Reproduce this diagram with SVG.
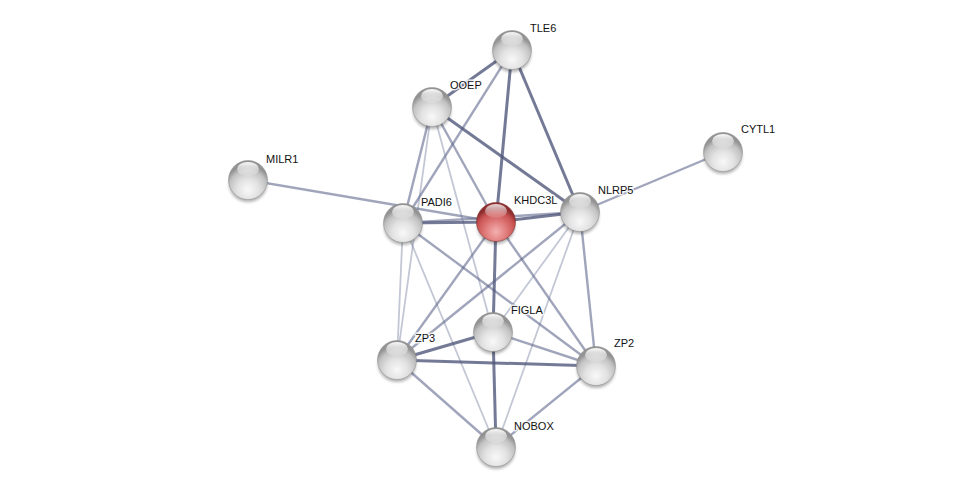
<svg xmlns="http://www.w3.org/2000/svg" width="975" height="493" viewBox="0 0 975 493">
<style>
.e1{stroke:#4d5578;stroke-opacity:0.78;stroke-width:3;fill:none}
.e2{stroke:#5c6489;stroke-opacity:0.58;stroke-width:2.4;fill:none}
.e3{stroke:#6a7296;stroke-opacity:0.4;stroke-width:1.8;fill:none}
.lbl{font-family:"Liberation Sans",Arial,sans-serif;font-size:11px;fill:#111;stroke:#fff;stroke-width:3;stroke-opacity:0.8;paint-order:stroke;stroke-linejoin:round}
</style>
<defs>
<radialGradient id="gGray" cx="50%" cy="75%" r="62%">
<stop offset="0" stop-color="#f8f8f8"/>
<stop offset="0.45" stop-color="#e2e2e2"/>
<stop offset="0.8" stop-color="#c2c2c2"/>
<stop offset="1" stop-color="#939393"/>
</radialGradient>
<radialGradient id="gRed" cx="50%" cy="75%" r="62%">
<stop offset="0" stop-color="#f3b0b0"/>
<stop offset="0.45" stop-color="#e07a7a"/>
<stop offset="0.8" stop-color="#c85252"/>
<stop offset="1" stop-color="#8e2e2e"/>
</radialGradient>
<linearGradient id="gHi" x1="0" y1="0" x2="0" y2="1">
<stop offset="0" stop-color="#ffffff" stop-opacity="0.95"/>
<stop offset="1" stop-color="#ffffff" stop-opacity="0.1"/>
</linearGradient>
<filter id="blur" x="-50%" y="-50%" width="200%" height="200%">
<feGaussianBlur stdDeviation="1.8"/>
</filter>
<g id="sphere">
<ellipse cx="0" cy="4" rx="19" ry="18" fill="#000" opacity="0.3" filter="url(#blur)"/>
<circle r="19.5" fill="url(#gGray)" stroke="#8a8a8a" stroke-width="0.5"/>
<ellipse cx="0" cy="-11" rx="11" ry="7" fill="url(#gHi)"/>
</g>
<g id="sphereRed">
<ellipse cx="0" cy="4" rx="19" ry="18" fill="#000" opacity="0.3" filter="url(#blur)"/>
<circle r="19.5" fill="url(#gRed)" stroke="#7a2a2a" stroke-width="0.5"/>
<ellipse cx="0" cy="-11" rx="11" ry="7" fill="url(#gHi)" opacity="0.85"/>
</g>
</defs>
<rect width="975" height="493" fill="#fff"/>
<g id="connectors">
<line class="e1" x1="512" y1="50" x2="432" y2="107"/>
<line class="e2" x1="512" y1="50" x2="403" y2="223"/>
<line class="e1" x1="512" y1="50" x2="496" y2="222"/>
<line class="e1" x1="512" y1="50" x2="580" y2="212"/>
<line class="e2" x1="432" y1="107" x2="403" y2="223"/>
<line class="e3" x1="432" y1="107" x2="397" y2="360"/>
<line class="e3" x1="432" y1="107" x2="493" y2="332"/>
<line class="e2" x1="432" y1="107" x2="496" y2="222"/>
<line class="e1" x1="432" y1="107" x2="580" y2="212"/>
<line class="e2" x1="248" y1="180" x2="496" y2="222"/>
<line class="e2" x1="723" y1="152" x2="580" y2="212"/>
<line class="e1" x1="403" y1="223" x2="496" y2="222"/>
<line class="e2" x1="403" y1="223" x2="580" y2="212"/>
<line class="e1" x1="496" y1="222" x2="580" y2="212"/>
<line class="e3" x1="403" y1="223" x2="397" y2="360"/>
<line class="e3" x1="403" y1="223" x2="496" y2="447"/>
<line class="e2" x1="403" y1="223" x2="596" y2="366"/>
<line class="e2" x1="496" y1="222" x2="397" y2="360"/>
<line class="e1" x1="496" y1="222" x2="493" y2="332"/>
<line class="e1" x1="493" y1="332" x2="496" y2="447"/>
<line class="e2" x1="496" y1="222" x2="596" y2="366"/>
<line class="e2" x1="580" y1="212" x2="397" y2="360"/>
<line class="e3" x1="580" y1="212" x2="493" y2="332"/>
<line class="e3" x1="580" y1="212" x2="496" y2="447"/>
<line class="e2" x1="580" y1="212" x2="596" y2="366"/>
<line class="e1" x1="493" y1="332" x2="397" y2="360"/>
<line class="e2" x1="493" y1="332" x2="596" y2="366"/>
<line class="e1" x1="397" y1="360" x2="596" y2="366"/>
<line class="e2" x1="397" y1="360" x2="496" y2="447"/>
<line class="e2" x1="596" y1="366" x2="496" y2="447"/>
</g>
<g id="TLE6"><use href="#sphere" x="512" y="50"/><text class="lbl" x="530" y="32">TLE6</text></g>
<g id="OOEP"><use href="#sphere" x="432" y="107"/><text class="lbl" x="450" y="89">OOEP</text></g>
<g id="CYTL1"><use href="#sphere" x="723" y="152"/><text class="lbl" x="741" y="133">CYTL1</text></g>
<g id="MILR1"><use href="#sphere" x="248" y="180"/><text class="lbl" x="266" y="163">MILR1</text></g>
<g id="PADI6"><use href="#sphere" x="403" y="223"/><text class="lbl" x="421" y="206">PADI6</text></g>
<g id="NLRP5"><use href="#sphere" x="580" y="212"/><text class="lbl" x="598" y="194">NLRP5</text></g>
<g id="KHDC3L"><use href="#sphereRed" x="496" y="222"/><text class="lbl" x="514" y="204">KHDC3L</text></g>
<g id="FIGLA"><use href="#sphere" x="493" y="332"/><text class="lbl" x="511" y="314">FIGLA</text></g>
<g id="ZP3"><use href="#sphere" x="397" y="360"/><text class="lbl" x="415" y="342">ZP3</text></g>
<g id="ZP2"><use href="#sphere" x="596" y="366"/><text class="lbl" x="614" y="347">ZP2</text></g>
<g id="NOBOX"><use href="#sphere" x="496" y="447"/><text class="lbl" x="514" y="430">NOBOX</text></g>
</svg>
